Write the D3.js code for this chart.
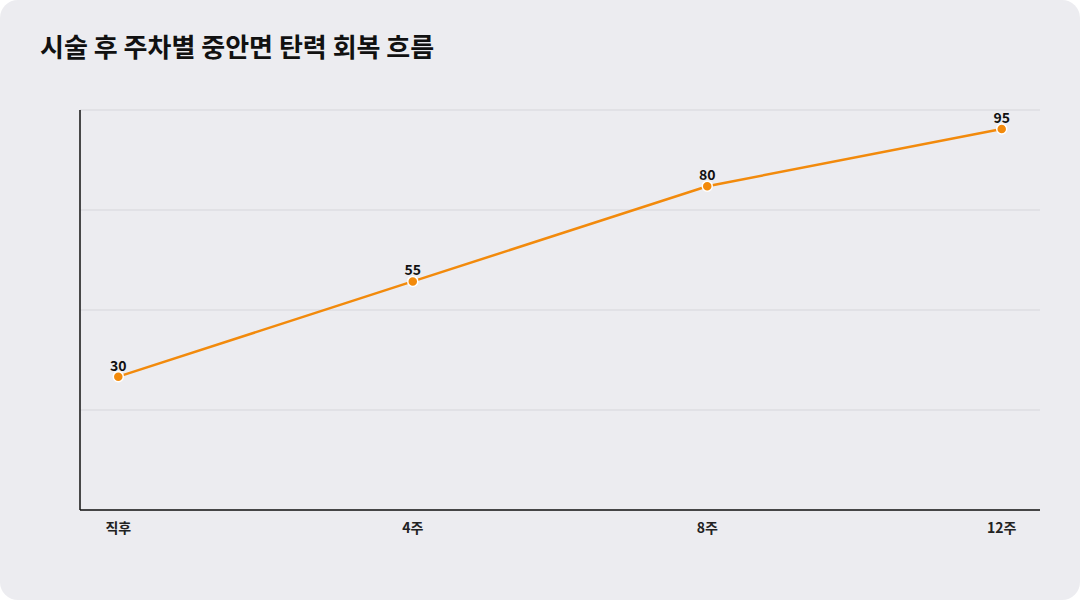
<!DOCTYPE html>
<html><head><meta charset="utf-8">
<script src="https://cdn.jsdelivr.net/npm/d3@7"></script>
<style>
html,body{margin:0;padding:0;background:#fff;}
svg{display:block;font-family:"Noto Sans CJK KR","Noto Sans",sans-serif;}
</style></head><body>
<svg id="c" width="1080" height="600"></svg>
<script>
const categories = ["직후","4주","8주","12주"];
const values = [30,55,80,95];
const title = "시술 후 주차별 중안면 탄력 회복 흐름";

const svg = d3.select("#c");
svg.append("rect").attr("width",1080).attr("height",600).attr("rx",18).attr("fill","#ececf0");
svg.append("text").attr("x",40).attr("y",57).attr("font-size",26).attr("font-weight",700)
  .attr("fill","#111").text(title);

const L=80,R=1040,T=110,B=510;
const x = d3.scalePoint().domain(categories).range([L,R]).padding(0.13);
const y = d3.scaleLinear().domain([-5,100]).range([B,T]);

const gridVals = d3.range(5).map(i=>y.invert(T+i*100));
svg.append("g").selectAll("line").data(gridVals).join("line")
  .attr("x1",L).attr("x2",R).attr("y1",d=>y(d)).attr("y2",d=>y(d))
  .attr("stroke","#d6d6db").attr("stroke-width",1);

svg.append("line").attr("x1",L).attr("x2",L).attr("y1",T).attr("y2",B).attr("stroke","#111").attr("stroke-width",1.5);
svg.append("line").attr("x1",L).attr("x2",R).attr("y1",B).attr("y2",B).attr("stroke","#111").attr("stroke-width",1.5);

svg.append("g").selectAll("text").data(categories).join("text")
  .attr("x",d=>x(d)).attr("y",533).attr("text-anchor","middle")
  .attr("font-size",14).attr("font-weight",700).attr("fill","#222").text(d=>d);

const line = d3.line().x((d,i)=>x(categories[i])).y(d=>y(d));
svg.append("path").datum(values).attr("d",line).attr("fill","none")
  .attr("stroke","#f28a0c").attr("stroke-width",2.5);

svg.append("g").selectAll("circle").data(values).join("circle")
  .attr("cx",(d,i)=>x(categories[i])).attr("cy",d=>y(d)).attr("r",5)
  .attr("fill","#f28a0c").attr("stroke","#fff").attr("stroke-width",1.5);

svg.append("g").selectAll("text").data(values).join("text")
  .attr("x",(d,i)=>x(categories[i])).attr("y",d=>y(d)-6).attr("text-anchor","middle")
  .attr("font-size",14).attr("font-weight",700).attr("fill","#111").text(d=>d);
</script></body></html>
